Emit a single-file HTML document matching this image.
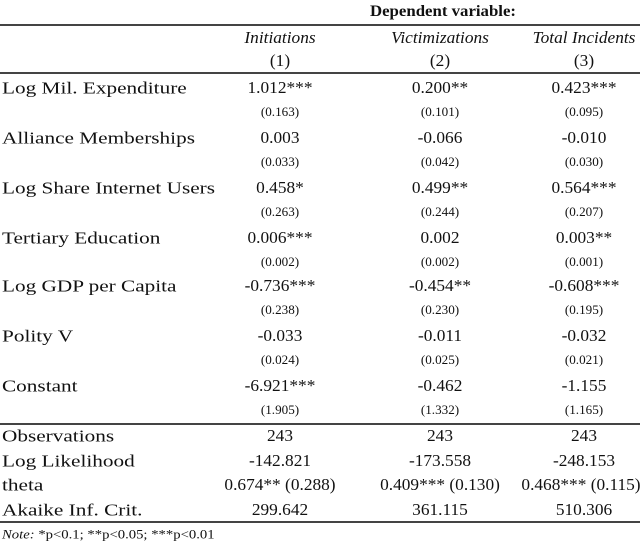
<!DOCTYPE html>
<html><head><style>
body{margin:0;width:640px;height:544px;background:#fff;font-family:"Liberation Serif",serif;color:#111;position:relative;overflow:hidden}
.t{position:absolute;white-space:nowrap;font-size:16.5px;line-height:1;transform:translateY(-50%)}
.l{font-size:17px;transform:translateY(-50%) scaleX(1.25);transform-origin:left center}
.c{transform:translate(-50%,-50%) scaleX(1.05)}
.s{font-size:12.5px}
.hr{position:absolute;left:0;width:640px;background:#444}
</style></head><body>
<div class="t c" style="left:443px;top:12px;font-weight:bold;font-size:16px">Dependent variable:</div>
<div class="hr" style="top:24px;height:2px"></div>
<div class="t c" style="left:280px;top:38px;font-style:italic">Initiations</div>
<div class="t c" style="left:440px;top:38px;font-style:italic">Victimizations</div>
<div class="t c" style="left:584px;top:38px;font-style:italic">Total Incidents</div>
<div class="t c" style="left:280px;top:61px">(1)</div>
<div class="t c" style="left:440px;top:61px">(2)</div>
<div class="t c" style="left:584px;top:61px">(3)</div>
<div class="hr" style="top:72px;height:2px"></div>

<div class="t l" style="left:2px;top:88px">Log Mil. Expenditure</div>
<div class="t c" style="left:280px;top:88px">1.012***</div><div class="t c" style="left:440px;top:88px">0.200**</div><div class="t c" style="left:584px;top:88px">0.423***</div>
<div class="t c s" style="left:280px;top:112px">(0.163)</div><div class="t c s" style="left:440px;top:112px">(0.101)</div><div class="t c s" style="left:584px;top:112px">(0.095)</div>

<div class="t l" style="left:2px;top:138px">Alliance Memberships</div>
<div class="t c" style="left:280px;top:138px">0.003</div><div class="t c" style="left:440px;top:138px">-0.066</div><div class="t c" style="left:584px;top:138px">-0.010</div>
<div class="t c s" style="left:280px;top:162px">(0.033)</div><div class="t c s" style="left:440px;top:162px">(0.042)</div><div class="t c s" style="left:584px;top:162px">(0.030)</div>

<div class="t l" style="left:2px;top:188px">Log Share Internet Users</div>
<div class="t c" style="left:280px;top:188px">0.458*</div><div class="t c" style="left:440px;top:188px">0.499**</div><div class="t c" style="left:584px;top:188px">0.564***</div>
<div class="t c s" style="left:280px;top:212px">(0.263)</div><div class="t c s" style="left:440px;top:212px">(0.244)</div><div class="t c s" style="left:584px;top:212px">(0.207)</div>

<div class="t l" style="left:2px;top:238px">Tertiary Education</div>
<div class="t c" style="left:280px;top:238px">0.006***</div><div class="t c" style="left:440px;top:238px">0.002</div><div class="t c" style="left:584px;top:238px">0.003**</div>
<div class="t c s" style="left:280px;top:262px">(0.002)</div><div class="t c s" style="left:440px;top:262px">(0.002)</div><div class="t c s" style="left:584px;top:262px">(0.001)</div>

<div class="t l" style="left:2px;top:286px">Log GDP per Capita</div>
<div class="t c" style="left:280px;top:286px">-0.736***</div><div class="t c" style="left:440px;top:286px">-0.454**</div><div class="t c" style="left:584px;top:286px">-0.608***</div>
<div class="t c s" style="left:280px;top:310px">(0.238)</div><div class="t c s" style="left:440px;top:310px">(0.230)</div><div class="t c s" style="left:584px;top:310px">(0.195)</div>

<div class="t l" style="left:2px;top:336px">Polity V</div>
<div class="t c" style="left:280px;top:336px">-0.033</div><div class="t c" style="left:440px;top:336px">-0.011</div><div class="t c" style="left:584px;top:336px">-0.032</div>
<div class="t c s" style="left:280px;top:360px">(0.024)</div><div class="t c s" style="left:440px;top:360px">(0.025)</div><div class="t c s" style="left:584px;top:360px">(0.021)</div>

<div class="t l" style="left:2px;top:386px">Constant</div>
<div class="t c" style="left:280px;top:386px">-6.921***</div><div class="t c" style="left:440px;top:386px">-0.462</div><div class="t c" style="left:584px;top:386px">-1.155</div>
<div class="t c s" style="left:280px;top:410px">(1.905)</div><div class="t c s" style="left:440px;top:410px">(1.332)</div><div class="t c s" style="left:584px;top:410px">(1.165)</div>
<div class="hr" style="top:423px;height:2px"></div>

<div class="t l" style="left:2px;top:436px">Observations</div>
<div class="t c" style="left:280px;top:436px">243</div><div class="t c" style="left:440px;top:436px">243</div><div class="t c" style="left:584px;top:436px">243</div>
<div class="t l" style="left:2px;top:461px">Log Likelihood</div>
<div class="t c" style="left:280px;top:461px">-142.821</div><div class="t c" style="left:440px;top:461px">-173.558</div><div class="t c" style="left:584px;top:461px">-248.153</div>
<div class="t l" style="left:2px;top:485px">theta</div>
<div class="t c" style="left:280px;top:485px">0.674** (0.288)</div><div class="t c" style="left:440px;top:485px">0.409*** (0.130)</div><div class="t c" style="left:581px;top:485px">0.468*** (0.115)</div>
<div class="t l" style="left:2px;top:510px">Akaike Inf. Crit.</div>
<div class="t c" style="left:280px;top:510px">299.642</div><div class="t c" style="left:440px;top:510px">361.115</div><div class="t c" style="left:584px;top:510px">510.306</div>
<div class="hr" style="top:521px;height:2px"></div>
<div class="t" style="left:2px;top:534px;font-size:13px;transform:translateY(-50%) scaleX(1.13);transform-origin:left center"><i>Note:</i> *p&lt;0.1; **p&lt;0.05; ***p&lt;0.01</div>
</body></html>
